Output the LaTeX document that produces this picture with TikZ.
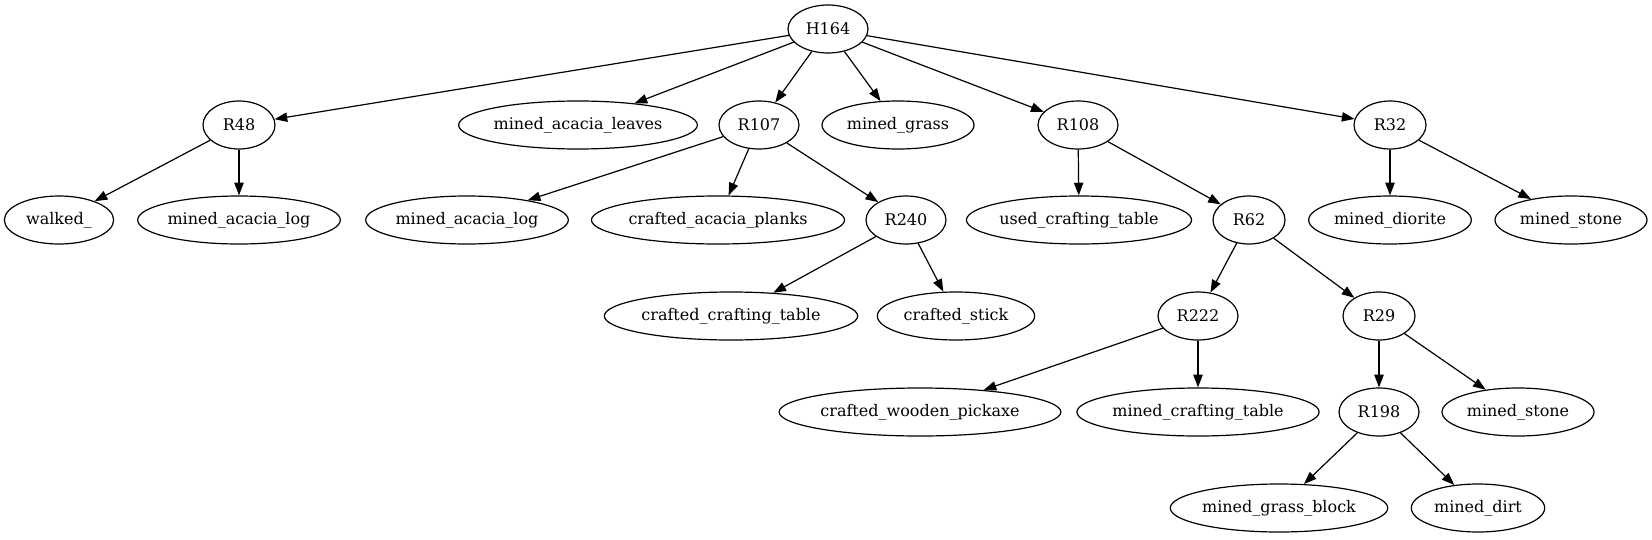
\documentclass[tikz,border=0pt]{standalone}
\usepackage{fontspec}
\setmainfont{DejaVu Serif}
\usepackage{tikz}
\usetikzlibrary{shapes, arrows.meta}
\usepackage{xcolor}

\tikzset{
    ell/.style={draw, ellipse, line width=0.9pt, inner sep=0pt, minimum height=36pt,
        font=\fontsize{12}{14}\selectfont},
    edge/.style={line width=0.9pt, -{Triangle[length=9.5pt, width=7pt]}}
}

\begin{document}
\begin{tikzpicture}[x=0.75pt, y=-0.75pt]

        \useasboundingbox (0,0) rectangle (1652,539);

        \node[ell, minimum width=60pt] (H164) at (828,29) {H164};

        \node[ell, minimum width=54pt] (R48) at (239,125) {R48};
        \node[ell, minimum width=176pt] (leaves) at (578,125) {mined\_acacia\_leaves};
        \node[ell, minimum width=60pt] (R107) at (759,125) {R107};
        \node[ell, minimum width=114pt] (grass) at (898,125) {mined\_grass};
        \node[ell, minimum width=60pt] (R108) at (1078,125) {R108};
        \node[ell, minimum width=54pt] (R32) at (1390,125) {R32};

        \node[ell, minimum width=82pt] (walked) at (59,220) {walked\_};
        \node[ell, minimum width=152pt] (logA) at (239,220) {mined\_acacia\_log};
        \node[ell, minimum width=152pt] (logB) at (467,220) {mined\_acacia\_log};
        \node[ell, minimum width=187pt] (planks) at (718,220) {crafted\_acacia\_planks};
        \node[ell, minimum width=60pt] (R240) at (906,220) {R240};
        \node[ell, minimum width=166pt] (usedtable) at (1079,220) {used\_crafting\_table};
        \node[ell, minimum width=54pt] (R62) at (1249,220) {R62};
        \node[ell, minimum width=122pt] (diorite) at (1390,220) {mined\_diorite};
        \node[ell, minimum width=114pt] (stoneA) at (1571,220) {mined\_stone};

        \node[ell, minimum width=184pt] (crafttable) at (731,316) {crafted\_crafting\_table};
        \node[ell, minimum width=118pt] (stick) at (956,316) {crafted\_stick};
        \node[ell, minimum width=60pt] (R222) at (1198,316) {R222};
        \node[ell, minimum width=54pt] (R29) at (1379,316) {R29};

        \node[ell, minimum width=205pt] (pickaxe) at (920,412) {crafted\_wooden\_pickaxe};
        \node[ell, minimum width=176pt] (minedtable) at (1198,412) {mined\_crafting\_table};
        \node[ell, minimum width=60pt] (R198) at (1379,412) {R198};
        \node[ell, minimum width=114pt] (stoneB) at (1518,412) {mined\_stone};

        \node[ell, minimum width=162pt] (grassblock) at (1279,508) {mined\_grass\_block};
        \node[ell, minimum width=100pt] (dirt) at (1478,508) {mined\_dirt};

        % H164 row
        \foreach \t in {R48, leaves, R107, grass, R108, R32}
            \draw[edge] (H164) -- (\t);

        \draw[edge] (R48) -- (walked);
        \draw[edge] (R48) -- (logA);
        \draw[edge] (R107) -- (logB);
        \draw[edge] (R107) -- (planks);
        \draw[edge] (R107) -- (R240);
        \draw[edge] (R108) -- (usedtable);
        \draw[edge] (R108) -- (R62);
        \draw[edge] (R32) -- (diorite);
        \draw[edge] (R32) -- (stoneA);
        \draw[edge] (R240) -- (crafttable);
        \draw[edge] (R240) -- (stick);
        \draw[edge] (R62) -- (R222);
        \draw[edge] (R62) -- (R29);
        \draw[edge] (R222) -- (pickaxe);
        \draw[edge] (R222) -- (minedtable);
        \draw[edge] (R29) -- (R198);
        \draw[edge] (R29) -- (stoneB);
        \draw[edge] (R198) -- (grassblock);
        \draw[edge] (R198) -- (dirt);

    \end{tikzpicture}
\end{document}
